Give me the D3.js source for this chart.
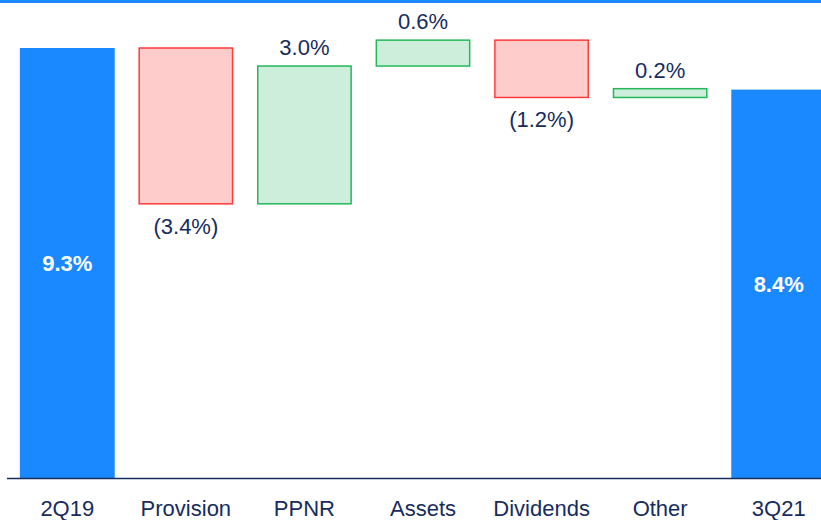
<!DOCTYPE html>
<html>
<head>
<meta charset="utf-8">
<script src="https://cdn.jsdelivr.net/npm/d3@7"></script>
<style>
  body { margin: 0; background: #fff; }
  svg { display: block; font-family: "Liberation Sans", Arial, sans-serif; }
</style>
</head>
<body>
<div id="chart"></div>
<script>
// waterfall: start, changes, end
const categories = ["2Q19", "Provision", "PPNR", "Assets", "Dividends", "Other", "3Q21"]
const startValue = 9.3
const changes = [-3.37, 2.98, 0.56, -1.24, 0.19]
const endValue = 8.4

const W = 821, H = 520
const baseY = 478

const blue = "#1a88ff", navy = "#172c5e"
const upFill = "#cdeedb", upStroke = "#22b85a"
const downFill = "#ffcccc", downStroke = "#ff3b3b"

const svg = d3.select("#chart").append("svg")
  .attr("width", W)
  .attr("height", H)

// build steps
let run = startValue
const steps = [{cat: categories[0], y0: 0, y1: startValue, v: startValue, type: "total"}]
changes.forEach((c, i) => {
  steps.push({cat: categories[i + 1], y0: run, y1: run + c, v: c, type: c < 0 ? "down" : "up"})
  run += c
})
steps.push({cat: categories[6], y0: 0, y1: endValue, v: endValue, type: "total"})

const x = d3.scaleBand()
  .domain(categories)
  .range([8, 838])
  .paddingInner(0.2)
  .paddingOuter(0.1)

const y = d3.scaleLinear()
  .domain([0, startValue])
  .range([baseY, 48])

const fmt = d3.format(".1f")

// top rule
svg.append("rect")
  .attr("x", 0).attr("y", 0)
  .attr("width", W).attr("height", 3)
  .attr("fill", blue)

const bars = svg.selectAll(".bar")
  .data(steps)
  .enter().append("rect")
  .attr("class", "bar")
  .attr("x", d => x(d.cat) + (d.type === "total" ? 0 : 0.75))
  .attr("width", d => x.bandwidth() - (d.type === "total" ? 0 : 1.5))
  .attr("y", d => y(Math.max(d.y0, d.y1)))
  .attr("height", d => Math.abs(y(d.y0) - y(d.y1)))
  .attr("fill", d => d.type === "total" ? blue : d.type === "up" ? upFill : downFill)
  .attr("stroke", d => d.type === "total" ? "none" : d.type === "up" ? upStroke : downStroke)
  .attr("stroke-width", 1.5)

// value labels
svg.selectAll(".val")
  .data(steps)
  .enter().append("text")
  .attr("class", "val")
  .attr("x", d => x(d.cat) + x.bandwidth() / 2)
  .attr("y", d => {
    if (d.type === "total") return (y(0) + y(d.y1)) / 2 + 8
    if (d.type === "up") return y(d.y1) - 11
    return y(d.y1) + 30
  })
  .attr("text-anchor", "middle")
  .attr("font-size", 22)
  .attr("font-weight", d => d.type === "total" ? "bold" : "normal")
  .attr("fill", d => d.type === "total" ? "#fff" : navy)
  .text(d => d.v < 0 ? `(${fmt(-d.v)}%)` : `${fmt(d.v)}%`)

// axis
const xAxis = svg.append("g")
  .attr("transform", `translate(0,${baseY})`)
  .call(d3.axisBottom(x).tickSize(0).tickPadding(22))

xAxis.select(".domain")
  .attr("d", `M7,0.5H${W}`)
  .attr("stroke", navy)
  .attr("stroke-width", 1.5)

xAxis.selectAll("text")
  .attr("font-size", 22)
  .attr("font-family", "'Liberation Sans', Arial, sans-serif")
  .attr("fill", navy)
</script>
</body>
</html>
